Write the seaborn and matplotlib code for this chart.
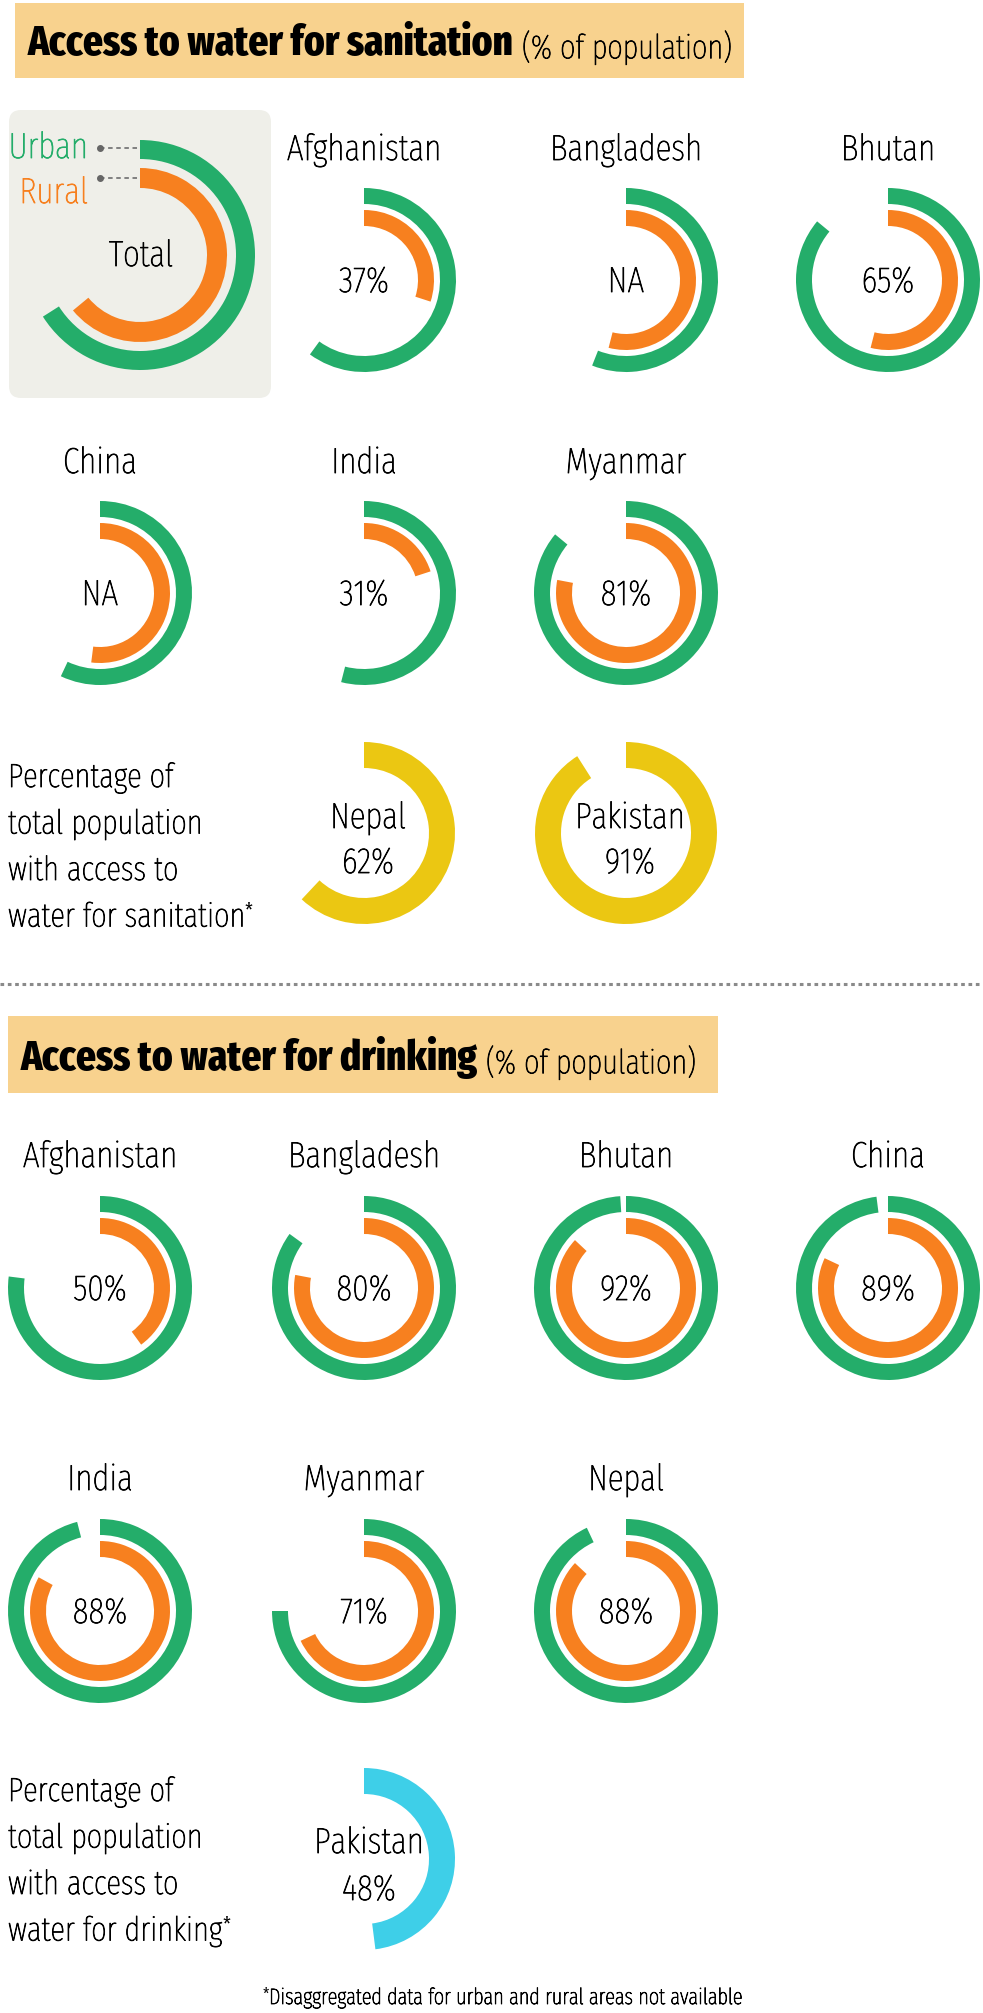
import matplotlib
matplotlib.use("Agg")
import matplotlib.pyplot as plt
import matplotlib.patheffects as pe
import seaborn as sns
from matplotlib.patches import FancyBboxPatch, Rectangle

W, H = 983, 2013

# --- sanitation: urban / rural arcs and total (% of population) ---
san_countries = ["Afghanistan", "Bangladesh", "Bhutan", "China", "India", "Myanmar"]
san_urban = [60, 56, 86, 57, 54, 86]
san_rural = [30, 54, 54, 52, 20, 78]
san_total = ["37%", "NA", "65%", "NA", "31%", "81%"]

# total only (no urban/rural split)
san_total_countries = ["Nepal", "Pakistan"]
san_total_values = [62, 91]

# --- drinking water ---
drink_countries = ["Afghanistan", "Bangladesh", "Bhutan", "China", "India", "Myanmar", "Nepal"]
drink_urban = [77, 85, 99, 98, 96, 75, 93]
drink_rural = [40, 78, 87, 82, 83, 68, 87]
drink_total = ["50%", "80%", "92%", "89%", "88%", "71%", "88%"]

drink_total_countries = ["Pakistan"]
drink_total_values = [48]

# legend example ring
legend_urban = 66
legend_rural = 64

sns.set_style("white")
plt.rcParams["font.family"] = ["Fira Sans Extra Condensed", "DejaVu Sans"]

GREEN = "#24ad6a"
ORANGE = "#f7801f"
YELLOW = "#ebc712"
CYAN = "#3ecfe8"
HEADER = "#f8d28e"
PANEL = "#efefe9"
TXT = "#000000"
THICK = [pe.withStroke(linewidth=0.6, foreground=TXT)]

fig = plt.figure(figsize=(W / 100, H / 100), dpi=100)
ax = fig.add_axes([0, 0, 1, 1])


def Y(y):
    # layout is measured from the top of the picture
    return H - y


def arc(cx, cy, value, r, w, color):
    ax.pie([value / 100], normalize=False, center=(cx, Y(cy)), radius=r,
           startangle=90, counterclock=False, colors=[color],
           wedgeprops=dict(width=w, linewidth=0), frame=True)


def text(x, y, s, size, **kw):
    kw.setdefault("ha", "center")
    kw.setdefault("weight", "light")
    kw.setdefault("color", TXT)
    t = ax.text(x, Y(y), s, fontsize=size, va="baseline", **kw)
    if kw["weight"] == "light":
        # light face is a bit too faint, thicken the strokes slightly
        t.set_path_effects([pe.withStroke(linewidth=0.6, foreground=kw["color"])])
    return t


def header(x0, y0, x1, y1, bold, rest, baseline):
    ax.add_patch(Rectangle((x0, Y(y1)), x1 - x0, y1 - y0, color=HEADER, lw=0))
    t = text(x0 + 13, baseline, bold, 30.5, ha="left", weight="heavy")
    ax.annotate(" " + rest, xy=(1, 0), xycoords=t, va="bottom", ha="left",
                fontsize=24, weight="light", color=TXT, path_effects=THICK)


def paragraph(y, lines):
    t = None
    for i, s in enumerate(lines):
        t = text(8, y + i * 46.5, s, 24, ha="left")
    ax.annotate("*", xy=(1, 1), xycoords=t, va="top", ha="left",
                fontsize=15, color=TXT)


LABEL = 26
col_x = [100, 364, 626, 888]

# ---------------- sanitation ----------------
header(15, 3, 744, 78, "Access to water for sanitation", "(% of population)", 55)

# legend panel
ax.add_patch(FancyBboxPatch((9, Y(398)), 262, 288, boxstyle="round,pad=0,rounding_size=12",
                            color=PANEL, lw=0))
arc(140, 255, legend_urban, 115, 19, GREEN)
arc(140, 255, legend_rural, 87, 20, ORANGE)
text(88, 158, "Urban", LABEL, ha="right", color=GREEN)
text(88, 203, "Rural", LABEL, ha="right", color=ORANGE)
text(141, 266, "Total", LABEL)
for yy in [148, 178]:
    ax.plot([100, 140], [Y(yy), Y(yy)], ls=(0, (2.5, 2)), color="#777777", lw=1.3)
    ax.plot(100, Y(yy), "o", ms=4, color="#666666")

san_pos = [(col_x[1], 280), (col_x[2], 280), (col_x[3], 280),
           (col_x[0], 593), (col_x[1], 593), (col_x[2], 593)]
for (cx, cy), name, u, r, tot in zip(san_pos, san_countries, san_urban, san_rural, san_total):
    arc(cx, cy, u, 92, 16, GREEN)
    arc(cx, cy, r, 70, 16, ORANGE)
    text(cx, cy - 120, name, LABEL)
    text(cx, cy + 12, tot, LABEL)

for cx, name, v in zip([col_x[1], col_x[2]], san_total_countries, san_total_values):
    arc(cx, 833, v, 91, 26, YELLOW)
    text(cx + 4, 828, name, LABEL)
    text(cx + 4, 873, f"{v}%", LABEL)

paragraph(787, ["Percentage of", "total population", "with access to", "water for sanitation"])

ax.plot([0, W], [Y(984), Y(984)], ls=(0, (1.2, 1.2)), color="#8a8a8a", lw=2.2)

# ---------------- drinking ----------------
header(8, 1016, 718, 1093, "Access to water for drinking", "(% of population)", 1070)

drink_pos = [(col_x[0], 1288), (col_x[1], 1288), (col_x[2], 1288), (col_x[3], 1288),
             (col_x[0], 1611), (col_x[1], 1611), (col_x[2], 1611)]
for (cx, cy), name, u, r, tot in zip(drink_pos, drink_countries, drink_urban, drink_rural, drink_total):
    arc(cx, cy, u, 92, 16, GREEN)
    arc(cx, cy, r, 70, 16, ORANGE)
    text(cx, cy - 121, name, LABEL)
    text(cx, cy + 12, tot, LABEL)

for cx, name, v in zip([col_x[1]], drink_total_countries, drink_total_values):
    arc(cx, 1859, v, 91, 26, CYAN)
    text(cx + 5, 1853, name, LABEL)
    text(cx + 5, 1900, f"{v}%", LABEL)

paragraph(1801, ["Percentage of", "total population", "with access to", "water for drinking"])

foot = text(505, 2004, "Disaggregated data for urban and rural areas not available", 16)
ax.annotate("*", xy=(0, 1), xycoords=foot, va="top", ha="right",
            fontsize=12, color=TXT)

ax.set_xlim(0, W)
ax.set_ylim(0, H)
ax.set_aspect("equal")
ax.axis("off")
fig.savefig("out.png", dpi=100)
